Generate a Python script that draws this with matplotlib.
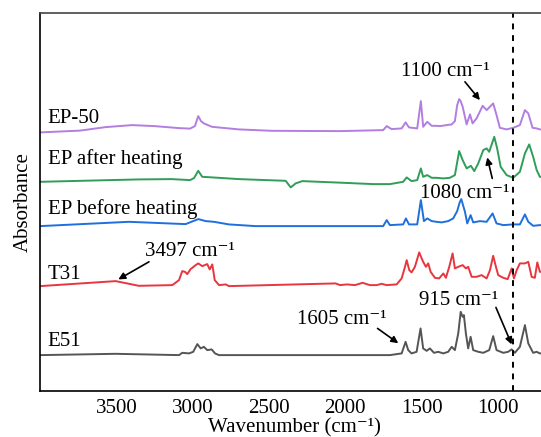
import matplotlib
matplotlib.use("Agg")
import matplotlib.pyplot as plt

plt.rcParams['font.family'] = ['Liberation Serif', 'DejaVu Serif']
plt.rcParams['font.size'] = 15

# ---- data: wavenumber (cm-1) and stacked absorbance (a.u.) ----
ep50_wn = [4000, 3739, 3571, 3398, 3250, 3090, 3018, 2986, 2964, 2946, 2927, 2874, 2697, 2481, 2035,
           1752, 1729, 1697, 1631, 1605, 1583, 1529, 1505, 1490, 1463, 1434, 1402, 1380, 1336, 1303,
           1282, 1267, 1254, 1244, 1231, 1205, 1183, 1166, 1140, 1100, 1074, 1031, 1009, 987, 943, 900, 856, 823,
           801, 773, 746, 725, 668]
ep50_ab = [258.7, 260.5, 264, 266, 265, 263, 262.5, 265, 275, 270, 267.7, 264.3, 261.7, 260.3, 260,
           261, 265, 262, 262.7, 268.7, 263.7, 262.7, 290, 264.3, 269.3, 265.3, 265.3, 265, 266, 266.7,
           270, 286, 292, 290, 284.3, 266.7, 276.7, 267.7, 272.7, 285.3, 281, 287.7, 276, 263.3, 261.7, 263.3, 266, 281,
           277.7, 263.3, 262.7, 261.7, 261]

after_wn = [4000, 3353, 3136, 3018, 2992, 2964, 2938, 2872, 2697, 2391, 2358, 2326, 2282, 2042, 1817,
            1708, 1621, 1598, 1566, 1529, 1505, 1490, 1463, 1434, 1402, 1358, 1315, 1282, 1254, 1231,
            1205, 1177, 1155, 1129, 1096, 1074, 1057, 1024, 1005, 982, 943, 900, 856, 823, 795, 769,
            746, 725, 668]
after_ab = [209.3, 211.7, 212, 211, 213, 220.3, 214.3, 213.7, 212, 210.3, 203.7, 207.7, 210, 208.5, 207,
            207, 209.3, 213.7, 210, 211, 222.7, 214.3, 216, 213.3, 213.3, 212.7, 213.3, 216, 240, 231,
            222.7, 225.3, 220, 227.7, 241, 242.7, 239.3, 254.3, 242.7, 224.3, 216, 213.3, 219.3, 237.7, 246.7, 234.3,
            221, 214.3, 213]

before_wn = [4000, 3418, 3047, 2964, 2915, 2861, 2763, 2588, 2042, 1752, 1729, 1708, 1621, 1603, 1583,
             1529, 1505, 1485, 1463, 1434, 1402, 1369, 1326, 1293, 1267, 1250, 1240, 1216, 1201, 1179, 1162,
             1118, 1074, 1035, 1009, 965, 900, 856, 823, 801, 769, 725, 668]
before_ab = [165, 169.3, 167, 172, 170, 169.3, 166.7, 165, 165, 165, 171, 166, 166.7, 172.7, 166.7,
             166.7, 191, 170, 172.7, 170, 169.3, 168.7, 170, 172.7, 180, 189, 192, 179.3, 167.7, 176, 168.7,
             170, 169.3, 177.7, 167.7, 166, 166.7, 166.7, 176.7, 169.3, 165.3, 166, 166]

t31_wn = [4000, 3505, 3353, 3134, 3090, 3069, 3051, 3036, 3014, 2981, 2964, 2938, 2905, 2889, 2872,
          2856, 2828, 2784, 2763, 2064, 2035, 1991, 1937, 1887, 1839, 1795, 1762, 1729, 1664, 1631,
          1609, 1598, 1581, 1566, 1544, 1516, 1490, 1472, 1457, 1441, 1413, 1385, 1358, 1341, 1319,
          1297, 1282, 1260, 1231, 1210, 1195, 1172, 1140, 1107, 1074, 1052, 1031, 1013, 998, 965,
          936, 910, 895, 877, 856, 823, 801, 779, 758, 742, 725, 668]
t31_ab = [105, 110, 105.3, 106, 111, 120, 119.3, 117, 122, 126, 127.7, 125, 127, 121.7, 126.7,
          111, 106, 106.7, 105, 107.7, 106, 106.7, 106, 108.3, 106, 106, 107.3, 106, 106.7, 112.7,
          124.3, 131, 121, 118.7, 124.3, 138.7, 129.3, 124.3, 127.7, 119.3, 113.3, 112.7, 117.7, 113.3, 124.3,
          137.7, 122.7, 124.3, 126, 122.7, 124.3, 114.3, 114.3, 116, 112.7, 121, 135.3, 124.3, 116, 113.3,
          112, 122.7, 112.7, 121, 127.7, 127.7, 129.3, 114.3, 113.3, 128.7, 119.3, 119]

e51_wn = [4000, 3505, 3090, 3069, 3025, 2997, 2970, 2948, 2927, 2905, 2876, 2854, 2828, 2042, 1708,
          1631, 1605, 1588, 1566, 1533, 1507, 1490, 1467, 1446, 1419, 1391, 1358, 1326, 1303, 1282,
          1260, 1244, 1231, 1223, 1210, 1195, 1179, 1162, 1129, 1096, 1057, 1031, 1009, 965, 933,
          910, 889, 856, 823, 801, 769, 746, 725, 668]
e51_ab = [36, 37.3, 36, 38.3, 37.7, 39.3, 47, 42.7, 44.3, 41, 41.7, 37.7, 36, 36, 36,
          37.7, 49.3, 41, 37.7, 39.3, 62.7, 42.7, 40.3, 42.7, 38.3, 39.3, 37.7, 39.3, 44.3, 41,
          57.7, 79.3, 74.3, 76, 57.7, 42.7, 54.3, 41, 39.3, 38.3, 41, 55, 41, 38.3, 39.3,
          41.7, 38.3, 44.3, 66, 47.7, 38.3, 39.3, 37.7, 38]

series_names = ["EP-50", "EP after heating", "EP before heating", "T31", "E51"]
xticks = [3500, 3000, 2500, 2000, 1500, 1000]
marker_wn = 900

fig = plt.figure(figsize=(5.41, 4.37), dpi=100)
ax = fig.add_axes([0.074, 0.105, 0.94, 0.865])

traces = [(ep50_wn, ep50_ab, '#b27ee0'),
          (after_wn, after_ab, '#2e9e58'),
          (before_wn, before_ab, '#1f6fdc'),
          (t31_wn, t31_ab, '#e8363e'),
          (e51_wn, e51_ab, '#555555')]
for wn, ab, c in traces:
    ax.plot(wn, ab, color=c, lw=1.4, solid_joinstyle='round')

ax.axvline(marker_wn, color='black', lw=1.4, ls=(0, (3, 3)))

ax.set_xlim(4001, 668)
ax.set_ylim(0, 378)
ax.set_xticks(xticks)
ax.set_yticks([])
ax.tick_params(axis='x', length=0, pad=6, labelsize=15)
for s in ['left', 'bottom', 'top']:
    ax.spines[s].set_linewidth(1.2)
ax.spines['right'].set_visible(False)
ax.spines['top'].set_color('#444444')

ax.set_xlabel("Wavenumber (cm⁻¹)", fontsize=15, labelpad=0)
ax.set_ylabel("Absorbance", fontsize=15, labelpad=5)

label_y = [267.7, 227, 177, 112, 45.3]
for name, y in zip(series_names, label_y):
    ax.text(3950, y, name, ha='left', va='baseline', fontsize=15)

ann = [("1100 cm⁻¹", 1638, 315, (1216, 309.3), (1118, 291)),
       ("1080 cm⁻¹", 1511, 192.7, (1037, 212.7), (1070, 233.7)),
       ("3497 cm⁻¹", 3313, 135.3, (3287, 129.3), (3488, 111.7)),
       ("1605 cm⁻¹", 2316, 66.9, (1789, 62.7), (1653, 47.9)),
       ("915 cm⁻¹", 1516, 86, (1013, 83.7), (910, 46.7))]
for txt, tx, ty, tail, tip in ann:
    ax.text(tx, ty, txt, ha='left', va='baseline', fontsize=15)
    ax.annotate('', xy=tip, xytext=tail,
                arrowprops=dict(arrowstyle='-|>', color='black', lw=1.2,
                                mutation_scale=10, shrinkA=0, shrinkB=0))

fig.savefig("out.png", dpi=100)
